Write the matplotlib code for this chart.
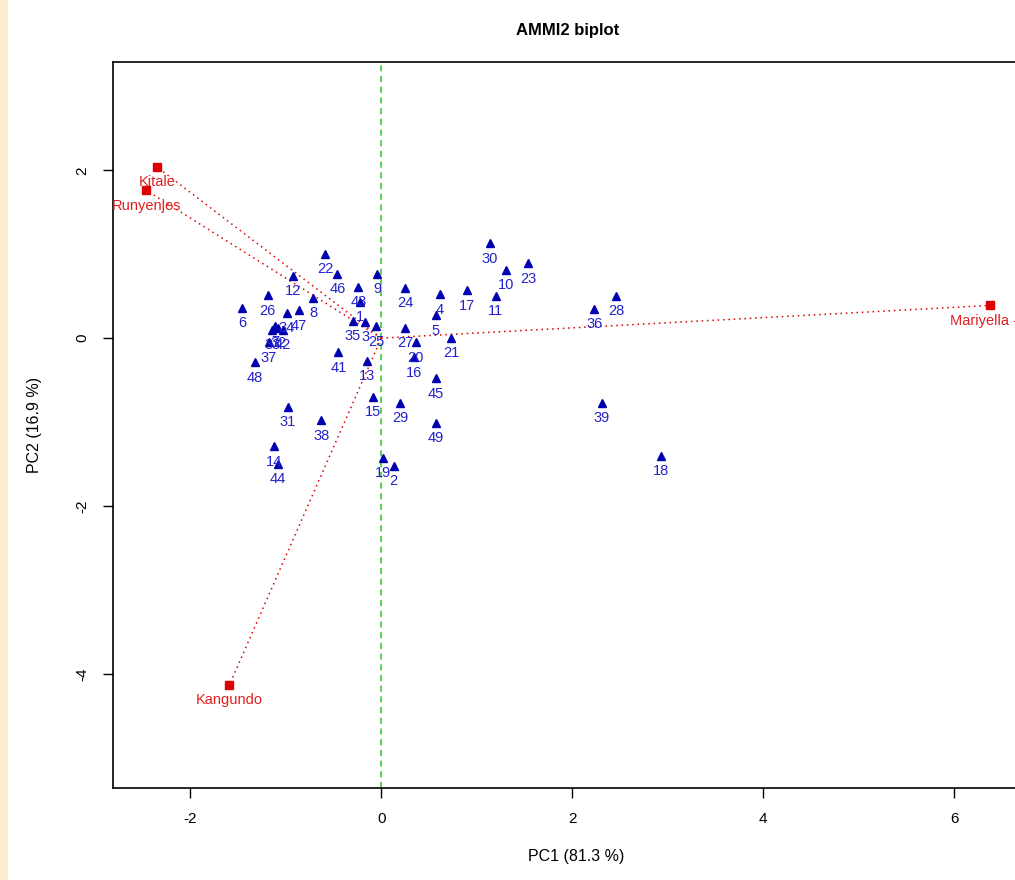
import matplotlib
matplotlib.use("Agg")
import matplotlib.pyplot as plt
from matplotlib.patches import Rectangle

plt.rcParams['font.family'] = ['Liberation Sans', 'DejaVu Sans']

# Genotypes (PC1, PC2)
gen_labels = ["22", "46", "12", "9", "24", "4", "8", "6", "26", "47", "34", "7", "33", "42", "32",
              "37", "48", "41", "13", "1", "43", "35", "3", "25", "27", "20", "16", "5", "45", "21",
              "17", "30", "10", "23", "11", "36", "28", "39", "18", "15", "29", "49", "31", "38",
              "14", "44", "19", "2"]
gen_pc1 = [-0.59, -0.46, -0.92, -0.04, 0.25, 0.61, -0.71, -1.46, -1.19, -0.86, -0.99, -1.11, -1.14, -1.03, -1.08,
           -1.18, -1.32, -0.45, -0.15, -0.22, -0.24, -0.30, -0.17, -0.05, 0.25, 0.36, 0.34, 0.57, 0.57, 0.73,
           0.90, 1.14, 1.31, 1.54, 1.20, 2.23, 2.46, 2.31, 2.93, -0.09, 0.20, 0.57, -0.98, -0.63,
           -1.12, -1.08, 0.02, 0.13]
gen_pc2 = [1.00, 0.77, 0.74, 0.77, 0.60, 0.52, 0.48, 0.36, 0.51, 0.33, 0.30, 0.14, 0.10, 0.10, 0.12,
           -0.05, -0.29, -0.17, -0.27, 0.43, 0.61, 0.21, 0.19, 0.14, 0.12, -0.05, -0.23, 0.27, -0.48, 0.00,
           0.57, 1.13, 0.81, 0.89, 0.50, 0.35, 0.50, -0.77, -1.40, -0.70, -0.77, -1.01, -0.82, -0.98,
           -1.29, -1.50, -1.43, -1.52]

# Environments (PC1, PC2)
env_labels = ["Kitale", "Runyenjes", "Mariyella - 3", "Kangundo"]
env_pc1 = [-2.35, -2.46, 6.38, -1.59]
env_pc2 = [2.04, 1.76, 0.39, -4.13]

title = "AMMI2 biplot"
xlabel = "PC1 (81.3 %)"
ylabel = "PC2 (16.9 %)"
xticks = [-2, 0, 2, 4, 6]
yticks = [-4, -2, 0, 2]

fig = plt.figure(figsize=(10.15, 8.8), dpi=100)
fig.patches.append(Rectangle((0, 0), 8 / 1015, 1, transform=fig.transFigure,
                             facecolor="#fdeccb", edgecolor="none", zorder=0))

ax = fig.add_axes([113 / 1015, 92 / 880, 927 / 1015, 726 / 880])
ax.set_xlim(-2.81, 6.9)
ax.set_ylim(-5.36, 3.29)

ax.axvline(0, color="#22cc22", linestyle=(0, (4, 3)), linewidth=1.1, zorder=1)

for x, y in zip(env_pc1, env_pc2):
    ax.plot([0, x], [0, y], color="#e00000", linestyle=(0, (1, 2.5)), linewidth=1.1, zorder=2)

ax.plot(gen_pc1, gen_pc2, linestyle="none", marker="^", markersize=6,
        color="#0000b0", zorder=3)
for lab, x, y in zip(gen_labels, gen_pc1, gen_pc2):
    ax.annotate(lab, (x, y), xytext=(0, -11), textcoords="offset points",
                ha="center", va="center", fontsize=10.5, color="#2222cc",
                annotation_clip=True, zorder=4)

ax.plot(env_pc1, env_pc2, linestyle="none", marker="s", markersize=6,
        color="#dd0000", zorder=5)
for lab, x, y in zip(env_labels, env_pc1, env_pc2):
    t = ax.annotate(lab, (x, y), xytext=(0, -11), textcoords="offset points",
                    ha="center", va="center", fontsize=10.5, color="#e02020", zorder=6)
    t.set_clip_on(True)

ax.set_xticks(xticks)
ax.set_yticks(yticks)
ax.set_xticklabels([str(v) for v in xticks], fontsize=11)
ax.set_yticklabels([str(v) for v in yticks], fontsize=11, rotation=90, va="center")
ax.tick_params(direction="out", length=7, width=1, pad=10)
for s in ax.spines.values():
    s.set_linewidth(1.2)

ax.set_xlabel(xlabel, fontsize=11.5, labelpad=17)
ax.set_ylabel(ylabel, fontsize=11.5, labelpad=24)
fig.text(568 / 1015, 1 - 30 / 880, title, ha="center", va="center",
         fontsize=12, fontweight="bold")

fig.savefig("out.png", dpi=100)
